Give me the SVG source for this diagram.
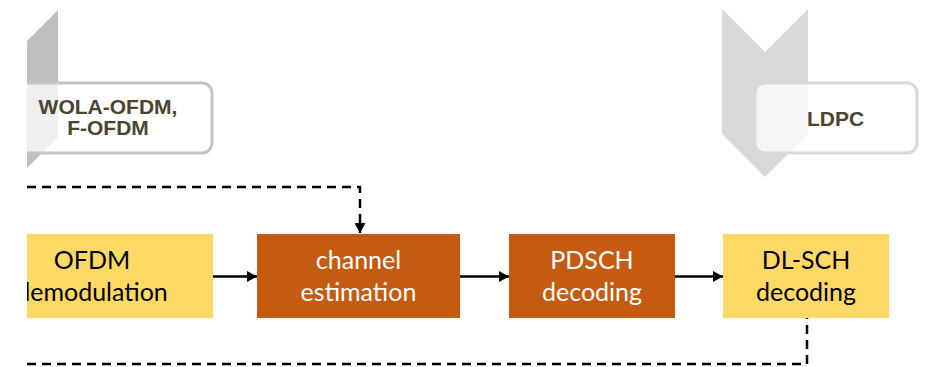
<svg xmlns="http://www.w3.org/2000/svg" width="933" height="367" viewBox="0 0 933 367">
  <defs>
    <clipPath id="frame">
      <rect x="27" y="0" width="906" height="367"/>
    </clipPath>
    <marker id="arrow" markerWidth="10" markerHeight="11" refX="10" refY="5.5" orient="auto" markerUnits="userSpaceOnUse">
      <path d="M0,0 L10,5.5 L0,11 Z" fill="#000"/>
    </marker>
  </defs>
  <style>
    .tag { fill: #ffffff; fill-opacity: 0.75; stroke-width: 3; }
    .tagtext { font-family: "Liberation Sans", Arial, sans-serif; font-weight: bold; font-size: 21px; fill: #4b4530; text-anchor: middle; }
    .block text { font-family: Lato, "Open Sans", sans-serif; font-size: 25px; text-anchor: middle; }
    .light { fill: #ffd966; }
    .dark { fill: #c55a11; }
    .light ~ text { fill: #000; }
    .dark ~ text { fill: #fff; }
    .solid { stroke: #000; stroke-width: 2.5; fill: none; }
    .dash { stroke: #000; stroke-width: 2.5; fill: none; stroke-dasharray: 9 6; }
  </style>
  <rect width="933" height="367" fill="#fff"/>
  <g clip-path="url(#frame)">
    <!-- waveform tag on the left -->
    <g id="tag-waveform">
      <polygon points="-28,10 15,53 58,10 58,137 15,180 -28,137" fill="#bfbfbf"/>
      <rect class="tag" x="-20" y="83" width="232" height="70" rx="10" stroke="#c4c4c4"/>
      <text class="tagtext" x="108" y="114">WOLA-OFDM,</text>
      <text class="tagtext" x="108" y="134.5">F-OFDM</text>
    </g>
    <!-- channel coding tag on the right -->
    <g id="tag-coding">
      <polygon points="722,9 765,52 808,9 808,134 765,177 722,134" fill="#d9d9d9"/>
      <rect class="tag" x="755" y="83" width="162" height="70" rx="10" stroke="#dadada"/>
      <text class="tagtext" x="835.5" y="126">LDPC</text>
    </g>

    <!-- processing chain -->
    <g id="ofdm-demod" class="block">
      <rect class="light" x="-27" y="234" width="240" height="84"/>
      <text x="92" y="269">OFDM</text>
      <text x="92" y="301">demodulation</text>
    </g>
    <g id="channel-est" class="block">
      <rect class="dark" x="257" y="234" width="203" height="84"/>
      <text x="358.5" y="269">channel</text>
      <text x="358.5" y="301">estimation</text>
    </g>
    <g id="pdsch-dec" class="block">
      <rect class="dark" x="509" y="234" width="166" height="84"/>
      <text x="592" y="269">PDSCH</text>
      <text x="592" y="301">decoding</text>
    </g>
    <g id="dlsch-dec" class="block">
      <rect class="light" x="723" y="234" width="166" height="84"/>
      <text x="806" y="269">DL-SCH</text>
      <text x="806" y="301">decoding</text>
    </g>

    <g id="connectors">
      <line class="solid" x1="213" y1="276.5" x2="257" y2="276.5" marker-end="url(#arrow)"/>
      <line class="solid" x1="460" y1="276.5" x2="509" y2="276.5" marker-end="url(#arrow)"/>
      <line class="solid" x1="675" y1="276.5" x2="723" y2="276.5" marker-end="url(#arrow)"/>
      <polyline class="dash" points="27,187 360,187 360,233" marker-end="url(#arrow)"/>
      <polyline class="dash" points="27,364 807,364 807,318"/>
    </g>
  </g>
</svg>
